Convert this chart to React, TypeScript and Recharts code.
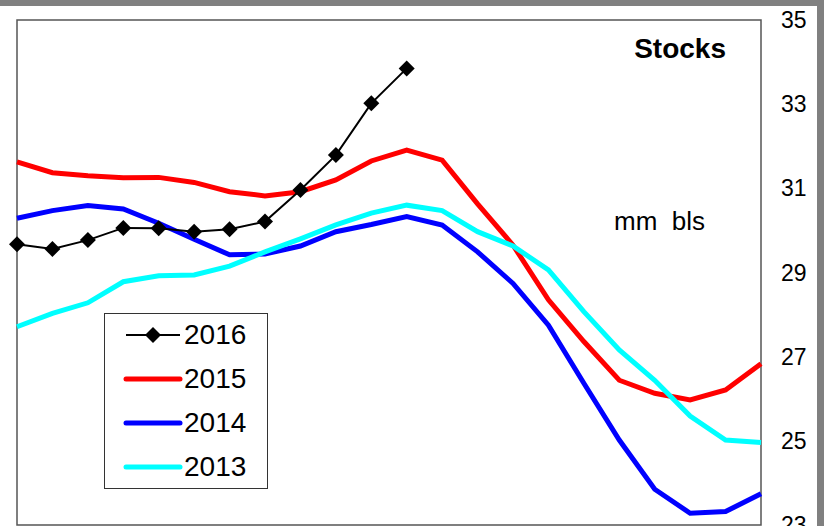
import React from "react";
import { LineChart, Line, XAxis, YAxis, Legend, ReferenceArea } from "recharts";

const font = "'Liberation Sans', Arial, sans-serif";

// 22 weekly points, no labels shown on the x axis
const weeks = [
  "w1", "w2", "w3", "w4", "w5", "w6", "w7", "w8", "w9", "w10", "w11",
  "w12", "w13", "w14", "w15", "w16", "w17", "w18", "w19", "w20", "w21", "w22",
];

const s2016 = [
  29.67, 29.56, 29.77, 30.06, 30.05, 29.97, 30.03, 30.21, 30.96, 31.79, 33.02, 33.85,
  null, null, null, null, null, null, null, null, null, null,
];
const s2015 = [
  31.63, 31.37, 31.3, 31.25, 31.26, 31.14, 30.92, 30.82, 30.92, 31.2, 31.65,
  31.91, 31.67, 30.63, 29.65, 28.35, 27.36, 26.44, 26.13, 25.97, 26.21, 26.83,
];
const s2014 = [
  30.29, 30.47, 30.59, 30.51, 30.17, 29.79, 29.42, 29.44, 29.63, 29.97, 30.14,
  30.33, 30.13, 29.49, 28.74, 27.75, 26.37, 25.02, 23.85, 23.28, 23.32, 23.74,
];
const s2013 = [
  27.71, 28.03, 28.28, 28.78, 28.92, 28.94, 29.15, 29.49, 29.8, 30.13, 30.41,
  30.6, 30.47, 29.97, 29.63, 29.06, 28.07, 27.16, 26.44, 25.59, 25.02, 24.96,
];

const yTicks = [23, 25, 27, 29, 31, 33, 35];

const series = [
  { key: "y2016", name: "2016", color: "#000000", width: 2, marker: true },
  { key: "y2015", name: "2015", color: "#ff0000", width: 5, marker: false },
  { key: "y2014", name: "2014", color: "#0000ff", width: 5, marker: false },
  { key: "y2013", name: "2013", color: "#00ffff", width: 5, marker: false },
];

const data = weeks.map((w, i) => ({
  week: w,
  y2016: s2016[i],
  y2015: s2015[i],
  y2014: s2014[i],
  y2013: s2013[i],
}));

function Diamond(props: any) {
  const { cx, cy, index } = props;
  if (cx == null || cy == null) return <g key={`d${index}`} />;
  const r = 8;
  return (
    <polygon
      key={`d${index}`}
      points={`${cx},${cy - r} ${cx + r},${cy} ${cx},${cy + r} ${cx - r},${cy}`}
      fill="#000"
    />
  );
}

function LegendBox() {
  return (
    <div
      style={{
        width: 164,
        height: 176,
        border: "1px solid #333",
        background: "#fff",
        fontFamily: font,
        fontSize: 28,
        boxSizing: "border-box",
      }}
    >
      {series.map((s, i) => (
        <div
          key={s.key}
          style={{
            position: "absolute",
            left: 0,
            top: 22 + i * 44 - 16,
            height: 32,
            display: "flex",
            alignItems: "center",
          }}
        >
          <svg width={80} height={32} style={{ display: "block" }}>
            <line
              x1={22}
              x2={76}
              y1={16}
              y2={16}
              stroke={s.color}
              strokeWidth={s.width}
              strokeLinecap={s.marker ? "butt" : "round"}
            />
            {s.marker && <polygon points="49,8 57,16 49,24 41,16" fill="#000" />}
          </svg>
          <span style={{ color: "#000", lineHeight: "32px" }}>{s.name}</span>
        </div>
      ))}
    </div>
  );
}

export default function App() {
  return (
    <div
      style={{
        position: "absolute",
        left: 0,
        top: 0,
        width: 824,
        height: 526,
        background: "#fff",
        overflow: "hidden",
      }}
    >
      <LineChart
        width={824}
        height={526}
        data={data}
        margin={{ top: 20, right: 0, bottom: 1, left: 17 }}
      >
        <XAxis dataKey="week" hide />
        <YAxis
          orientation="right"
          domain={[23, 35]}
          ticks={yTicks}
          interval={0}
          axisLine={false}
          tickLine={false}
          tickMargin={14}
          width={63}
          tick={{ fill: "#000", fontSize: 23, fontFamily: font }}
        />
        <ReferenceArea
          x1={weeks[0]}
          x2={weeks[weeks.length - 1]}
          y1={23}
          y2={35}
          fill="none"
          stroke="#555"
          strokeWidth={1.5}
        />
        <Line
          dataKey="y2015"
          name="2015"
          stroke="#ff0000"
          strokeWidth={5}
          dot={false}
          isAnimationActive={false}
        />
        <Line
          dataKey="y2014"
          name="2014"
          stroke="#0000ff"
          strokeWidth={5}
          dot={false}
          isAnimationActive={false}
        />
        <Line
          dataKey="y2013"
          name="2013"
          stroke="#00ffff"
          strokeWidth={5}
          dot={false}
          isAnimationActive={false}
        />
        <Line
          dataKey="y2016"
          name="2016"
          stroke="#000000"
          strokeWidth={2}
          dot={Diamond}
          connectNulls={false}
          isAnimationActive={false}
        />
        <Legend
          layout="horizontal"
          verticalAlign="middle"
          align="center"
          content={() => <LegendBox />}
          wrapperStyle={{ left: 104, top: 313, width: 166, height: 178 }}
        />
      </LineChart>
      <div style={{ position: "absolute", left: 0, top: 0, width: 824, height: 6, background: "#808080" }} />
      <div style={{ position: "absolute", left: 817, top: 0, width: 7, height: 526, background: "#808080" }} />
      <div
        style={{
          position: "absolute",
          right: 98,
          top: 33,
          fontFamily: font,
          fontWeight: "bold",
          fontSize: 28,
          color: "#000",
        }}
      >
        Stocks
      </div>
      <div
        style={{
          position: "absolute",
          left: 614,
          top: 206,
          fontFamily: font,
          fontSize: 26,
          color: "#000",
          whiteSpace: "pre",
        }}
      >
        mm  bls
      </div>
    </div>
  );
}
